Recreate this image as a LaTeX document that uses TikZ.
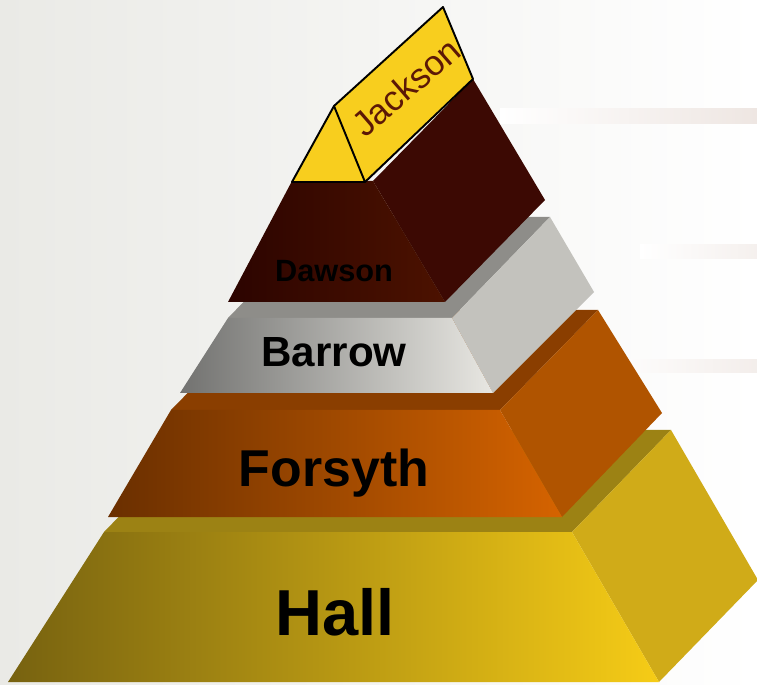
\documentclass[tikz,border=0pt]{standalone}
\usepackage{fontspec}
\setmainfont{Liberation Sans}

\definecolor{bgL}{HTML}{EAEAE6}
\definecolor{streak}{HTML}{EEE6E2}
\definecolor{hallL}{HTML}{776210}
\definecolor{hallR}{HTML}{F6CC16}
\definecolor{hallTop}{HTML}{9C8214}
\definecolor{hallSide}{HTML}{D0AB18}
\definecolor{forL}{HTML}{6A2F00}
\definecolor{forR}{HTML}{D56300}
\definecolor{forTop}{HTML}{8A3E00}
\definecolor{forSide}{HTML}{B05400}
\definecolor{barL}{HTML}{727270}
\definecolor{barR}{HTML}{E8E7E2}
\definecolor{barTop}{HTML}{8E8D89}
\definecolor{barSide}{HTML}{C3C2BD}
\definecolor{dawL}{HTML}{2C0400}
\definecolor{dawR}{HTML}{4C1200}
\definecolor{dawSide}{HTML}{3C0903}
\definecolor{jackY}{HTML}{F8CE1E}
\definecolor{jackText}{HTML}{5C1806}

\begin{document}
\begin{tikzpicture}[x=0.02cm,y=-0.02cm,
  tier/.style={font=\bfseries,text=black,inner sep=0pt,anchor=base}]
\clip (0,0) rectangle (757,685);

% background
\shade[left color=bgL,right color=white] (0,0) rectangle (757,685);
\shade[left color=white,right color=streak] (500,109) rectangle (757,124);
\shade[left color=white,right color=streak!60] (640,245) rectangle (757,259);
\shade[left color=white,right color=streak!70] (600,360) rectangle (757,373);

% Hall
\fill[hallTop] (104,532) -- (572,532) -- (671,430) -- (203,430) -- cycle;
\fill[hallSide] (572,532) -- (671,430) -- (758,580) -- (659,682) -- cycle;
\shade[left color=hallL,right color=hallR] (8,682) -- (659,682) -- (572,532) -- (104,532) -- cycle;

% Forsyth
\fill[forTop] (171,410) -- (500,410) -- (598,310) -- (269,310) -- cycle;
\fill[forSide] (500,410) -- (598,310) -- (662,413) -- (562,517) -- cycle;
\shade[left color=forL,right color=forR] (108,517) -- (562,517) -- (500,410) -- (171,410) -- cycle;

% Barrow
\fill[barTop] (228,318) -- (452,318) -- (550,217) -- (326,217) -- cycle;
\fill[barSide] (452,318) -- (550,217) -- (594,292) -- (493,393) -- cycle;
\shade[left color=barL,right color=barR] (180,393) -- (493,393) -- (452,318) -- (228,318) -- cycle;

% Dawson
\fill[dawSide] (445,302) -- (545,200) -- (473,79) -- (373,181) -- cycle;
\shade[left color=dawL,right color=dawR] (228,302) -- (445,302) -- (373,181) -- (292,181) -- cycle;

% Jackson arrow
\draw[fill=jackY,line width=1.1pt,line join=round]
  (292,182) -- (334,106) -- (443,7) -- (473,79) -- (365,182) -- cycle;
\draw[line width=1.1pt] (334,106) -- (365,182);

\node[tier,font=\bfseries\fontsize{17.5}{20}\selectfont] (dawson) at (334,282) {Dawson};
\node[tier,font=\bfseries\fontsize{24}{26}\selectfont] (barrow) at (334,367) {Barrow};
\node[tier,font=\bfseries\fontsize{29.5}{32}\selectfont] (forsyth) at (334,486) {Forsyth};
\node[tier,font=\bfseries\fontsize{37}{40}\selectfont] (hall) at (335,635) {Hall};
\node[text=jackText,inner sep=0pt,rotate=41,font=\fontsize{20}{22}\selectfont] (jackson) at (406,87) {Jackson};
\end{tikzpicture}
\end{document}
